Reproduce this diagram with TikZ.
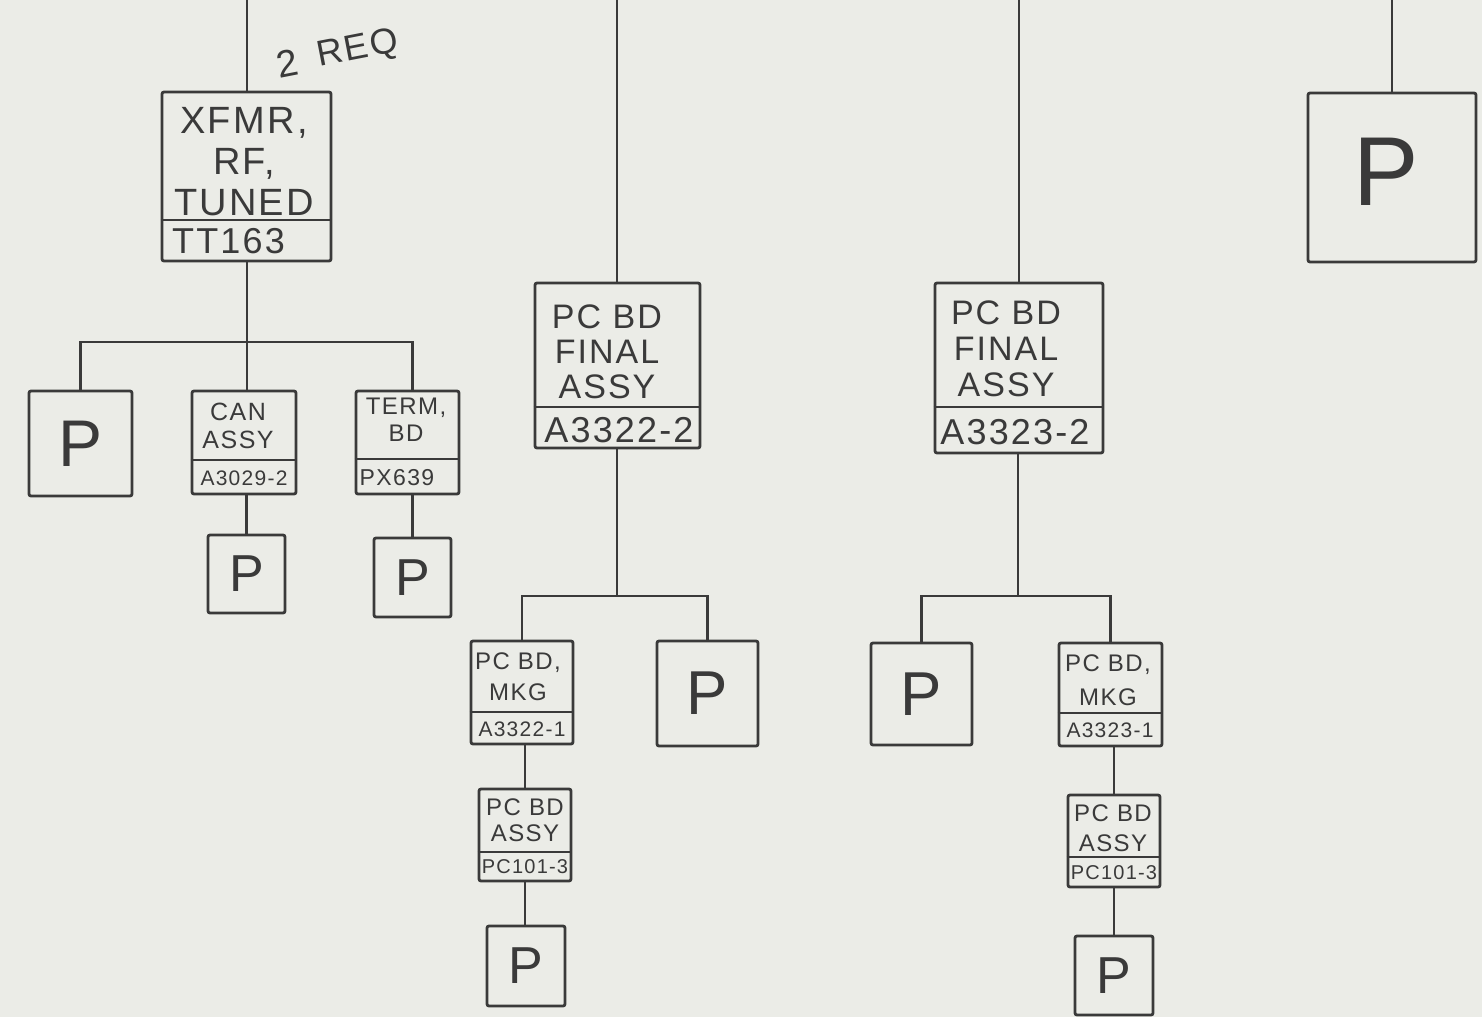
\documentclass[tikz,border=0pt]{standalone}
\usepackage{fontspec}
\setmainfont{Liberation Sans}[LetterSpace=6]
\usetikzlibrary{fit}
\definecolor{paper}{HTML}{EBECE7}
\definecolor{ink}{HTML}{3A3A3A}
\newcommand{\fsz}[2]{\fontsize{#1}{#2}\selectfont}
\begin{document}
\begin{tikzpicture}[x=1pt,y=-1pt,
  box/.style={draw=ink, line width=2.8pt, rounded corners=2pt, inner sep=0pt},
  wire/.style={draw=ink, line width=2.8pt},
  divline/.style={draw=ink, line width=2.6pt},
  lbl/.style={text=ink, inner sep=0pt, align=center},
  pl/.style={text=ink, inner sep=0pt}]
\fill[paper] (0,0) rectangle (1482,1017);
\useasboundingbox (0,0) rectangle (1482,1017);

% ---------- boxes ----------
\node[box, fit={(162,92) (331,261)}] (xf) {};
\node[box, fit={(29,391) (132,496)}] (pL) {};
\node[box, fit={(192,391) (296,494)}] (can) {};
\node[box, fit={(356,391) (459,494)}] (term) {};
\node[box, fit={(208,535) (285,613)}] (pcan) {};
\node[box, fit={(374,538) (451,617)}] (pterm) {};
\node[box, fit={(535,283) (700,448)}] (fa) {};
\node[box, fit={(471,641) (573,744)}] (mkA) {};
\node[box, fit={(657,641) (758,746)}] (pA) {};
\node[box, fit={(479,789) (571,881)}] (asA) {};
\node[box, fit={(487,926) (565,1006)}] (pasA) {};
\node[box, fit={(935,283) (1103,453)}] (fb) {};
\node[box, fit={(871,643) (972,745)}] (pB) {};
\node[box, fit={(1059,643) (1162,746)}] (mkB) {};
\node[box, fit={(1068,795) (1160,887)}] (asB) {};
\node[box, fit={(1075,936) (1153,1015)}] (pasB) {};
\node[box, fit={(1308,93) (1476,262)}] (pTR) {};

% ---------- dividers ----------
\draw[divline] (xf.west |- 0,220) -- (xf.east |- 0,220);
\draw[divline] (can.west |- 0,460) -- (can.east |- 0,460);
\draw[divline] (term.west |- 0,459) -- (term.east |- 0,459);
\draw[divline] (fa.west |- 0,407) -- (fa.east |- 0,407);
\draw[divline] (fb.west |- 0,407) -- (fb.east |- 0,407);
\draw[divline] (mkA.west |- 0,712) -- (mkA.east |- 0,712);
\draw[divline] (asA.west |- 0,852) -- (asA.east |- 0,852);
\draw[divline] (mkB.west |- 0,713) -- (mkB.east |- 0,713);
\draw[divline] (asB.west |- 0,857) -- (asB.east |- 0,857);

% ---------- texts ----------
\node[lbl, rotate=11, font=\fsz{38}{40}] (req2) at (287,63) {2};
\node[lbl, rotate=11, font=\fsz{36}{38}] (reqt) at (358,50) {REQ};
\node[lbl, font=\fsz{38}{41}] (xft) at (244,162) {XFMR,\\RF,\\TUNED};
\node[lbl, anchor=west, font=\fsz{36}{38}] (xfb) at (172,241) {TT163};
\node[lbl, font=\fsz{25}{28}] (cant) at (238,426) {CAN\\ASSY};
\node[lbl, font=\fsz{21}{23}] (canb) at (244,478) {A3029-2};
\node[lbl, font=\fsz{24}{27}] (termt) at (406,420) {TERM,\\BD};
\node[lbl, font=\fsz{23}{25}] (termb) at (397,478) {PX639};
\node[lbl, font=\fsz{34}{35}] (fat) at (607,352) {PC BD\\FINAL\\ASSY};
\node[lbl, font=\fsz{36}{38}] (fab) at (619,430) {A3322-2};
\node[lbl, font=\fsz{34}{36}] (fbt) at (1006,349) {PC BD\\FINAL\\ASSY};
\node[lbl, font=\fsz{36}{38}] (fbb) at (1015,432) {A3323-2};
\node[lbl, font=\fsz{24}{31}] (mkAt) at (518,677) {PC BD,\\MKG};
\node[lbl, font=\fsz{21}{23}] (mkAb) at (522,729) {A3322-1};
\node[lbl, font=\fsz{24}{26}] (asAt) at (525,820) {PC BD\\ASSY};
\node[lbl, font=\fsz{20}{22}] (asAb) at (525,867) {PC101-3};
\node[lbl, font=\fsz{24}{34}] (mkBt) at (1108,680) {PC BD,\\MKG};
\node[lbl, font=\fsz{21}{23}] (mkBb) at (1110,730) {A3323-1};
\node[lbl, font=\fsz{24}{30}] (asBt) at (1113,828) {PC BD\\ASSY};
\node[lbl, font=\fsz{20}{22}] (asBb) at (1114,873) {PC101-3};

\node[pl, font=\fsz{66}{68}] (pLt) at (pL.center) {P};
\node[pl, font=\fsz{52}{54}] (pcant) at (pcan.center) {P};
\node[pl, font=\fsz{52}{54}] (ptermt) at (pterm.center) {P};
\node[pl, font=\fsz{62}{64}] (pAt) at (pA.center) {P};
\node[pl, font=\fsz{62}{64}] (pBt) at (pB.center) {P};
\node[pl, font=\fsz{52}{54}] (pasAt) at (pasA.center) {P};
\node[pl, font=\fsz{52}{54}] (pasBt) at (pasB.center) {P};
\node[pl, font=\fsz{98}{100}] (pTRt) at (1386,172) {P};

% ---------- connectors ----------
\coordinate (t1) at (247,0);
\coordinate (t2) at (617,0);
\coordinate (t3) at (1019,0);
\coordinate (t4) at (1392,0);
\draw[wire] (t1) -- (t1 |- xf.north);
\draw[wire] (t2) -- (t2 |- fa.north);
\draw[wire] (t3) -- (t3 |- fb.north);
\draw[wire] (t4) -- (t4 |- pTR.north);

\coordinate (busA) at (247,342);
\draw[wire] (busA |- xf.south) -- (busA |- can.north);
\draw[wire] (pL.north) |- (busA) -| (pterm.north |- term.north);
\draw[wire] (pcan.north |- can.south) -- (pcan.north);
\draw[wire] (pterm.north |- term.south) -- (pterm.north);

\coordinate (busB) at (617,596);
\draw[wire] (busB |- fa.south) -- (busB);
\draw[wire] (mkA.north) |- (busB) -| (pA.north);
\draw[wire] (asA.north |- mkA.south) -- (asA.north);
\draw[wire] (asA.south) -- (asA.south |- pasA.north);

\coordinate (busC) at (1018,596);
\draw[wire] (busC |- fb.south) -- (busC);
\draw[wire] (pB.north) |- (busC) -| (mkB.north);
\draw[wire] (asB.north |- mkB.south) -- (asB.north);
\draw[wire] (asB.south) -- (asB.south |- pasB.north);
\end{tikzpicture}
\end{document}
